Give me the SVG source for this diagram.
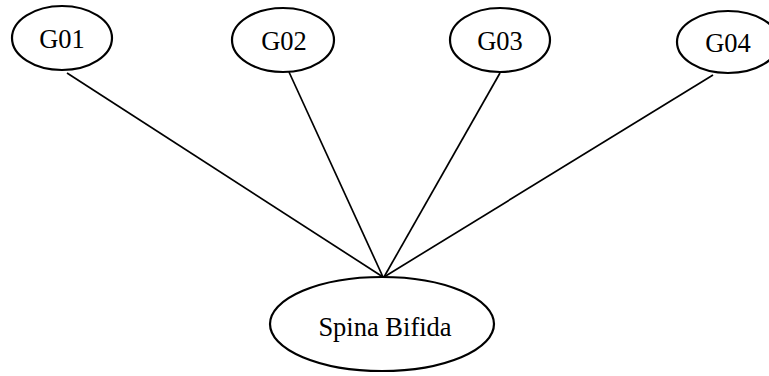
<svg xmlns="http://www.w3.org/2000/svg" width="769" height="376" viewBox="0 0 769 376">
<style>
.node ellipse{fill:#fff;stroke:#000;stroke-width:2.2}
.node text{font-family:"Liberation Serif","Times New Roman",serif;font-size:26.5px;fill:#000;text-anchor:middle}
.edges line{stroke:#000;stroke-width:1.7}
</style>
<rect width="769" height="376" fill="#fff"/>
<g class="edges" id="connectors">
<line x1="67" y1="73" x2="383" y2="277"/>
<line x1="289" y1="72" x2="383" y2="277"/>
<line x1="500" y1="73" x2="384" y2="277"/>
<line x1="713" y1="75" x2="384" y2="277"/>
</g>
<g class="node" id="G01"><ellipse cx="62" cy="38" rx="50" ry="32"/><text x="62" y="48">G01</text></g>
<g class="node" id="G02"><ellipse cx="283" cy="40" rx="51" ry="32"/><text x="284" y="50">G02</text></g>
<g class="node" id="G03"><ellipse cx="500" cy="40" rx="50" ry="32"/><text x="500" y="50">G03</text></g>
<g class="node" id="G04"><ellipse cx="728" cy="42" rx="51" ry="31"/><text x="728" y="52">G04</text></g>
<g class="node" id="SpinaBifida"><ellipse cx="382" cy="324" rx="112" ry="47"/><text x="385" y="336">Spina Bifida</text></g>
</svg>
